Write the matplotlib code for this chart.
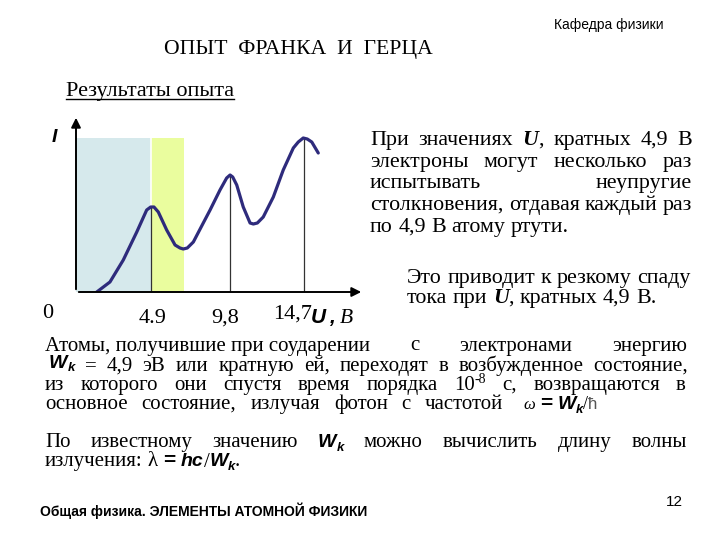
import matplotlib
matplotlib.use("Agg")
import matplotlib.pyplot as plt
from matplotlib.patches import Rectangle

# curve (U in volts, I in arbitrary units)
U = [1.34, 2.19, 3.05, 3.92, 4.56, 4.82, 5.03, 5.31, 5.85, 6.39, 6.71, 6.92, 7.18, 7.57,
     8.21, 8.65, 9.29, 9.72, 9.94, 10.11, 10.37, 10.79, 11.23, 11.44, 11.70, 12.08, 12.73,
     13.37, 14.02, 14.34, 14.66, 14.92, 15.21, 15.63]
I = [0, 10, 32, 60, 82, 85, 85, 80, 62, 47, 44, 43, 44, 50,
     69, 82, 102, 114, 117, 115, 107, 85, 69, 68, 69, 75, 95,
     122, 144, 150, 154, 153, 150, 139]
peak_U = [4.82, 9.94, 14.73]
peak_I = [85, 117, 154]
band_blue = [0, 4.82]
band_green = [4.82, 6.97]
band_top = 154
tick_pos = [-1.8, 4.97, 9.6, 14.0]
tick_txt = ["0", "4.9", "9,8", "14,7"]
tick_y = [-26, -31, -31, -27]

SERIF = "Liberation Serif"
SANS = "Liberation Sans"
ST = {
    "r": dict(family=SERIF),
    "bi": dict(family=SERIF, weight="bold", style="italic"),
    "i": dict(family=SERIF, style="italic"),
    "W": dict(family=SANS, weight="bold", style="italic"),
    "S": dict(family=SANS, weight="bold"),
    "t": dict(family=SANS, weight="light", color="#555555"),
}

fig = plt.figure(figsize=(7.2, 5.4), dpi=100)

# --- chart ---
ax = fig.add_axes([76 / 720, 248 / 540, 288 / 720, 177 / 540])
ax.set_xlim(0, 18.58)
ax.set_ylim(0, 177)
ax.axis("off")
ax.add_patch(Rectangle((band_blue[0], 0), band_blue[1] - band_blue[0], band_top,
                       fc="#d6e9ec", ec="none", zorder=0))
ax.add_patch(Rectangle((band_green[0], 0), band_green[1] - band_green[0], band_top,
                       fc="#eafd9e", ec="none", zorder=0))
ax.plot([peak_U[0], peak_U[0]], [peak_I[0], band_top], color="white", lw=1.2, zorder=1)
for u, i in zip(peak_U, peak_I):
    ax.plot([u, u], [0, i], color="#333333", lw=0.9, zorder=1)
ax.plot(U, I, color="#2e2b7c", lw=2.3, solid_joinstyle="round", solid_capstyle="round", zorder=3)
ax.annotate("", xy=(18.58, 0), xytext=(0, 0), annotation_clip=False,
            arrowprops=dict(arrowstyle="-|>", color="black", lw=1.4, mutation_scale=14))
ax.annotate("", xy=(0, 177), xytext=(0, 0), annotation_clip=False,
            arrowprops=dict(arrowstyle="-|>", color="black", lw=1.4, mutation_scale=14))
for p, t, ty in zip(tick_pos, tick_txt, tick_y):
    ax.text(p, ty, t, ha="center", va="baseline", fontsize=16, clip_on=False, **ST["r"])

# --- overlay in pixel coordinates for the slide text ---
ov = fig.add_axes([0, 0, 1, 1], zorder=5)
ov.set_xlim(0, 720)
ov.set_ylim(540, 0)
ov.axis("off")
ov.patch.set_alpha(0)
renderer = fig.canvas.get_renderer()


def seg_w(txt, size, st):
    t = ov.text(0, 0, txt, fontsize=size, **ST[st])
    w = t.get_window_extent(renderer).width
    t.remove()
    return w


def draw_line(y, words, x0, x1=None, size=15):
    # a word is a plain string or a list of (text, style, size or None, dy)
    words = [[(w, "r", None, 0)] if isinstance(w, str) else w for w in words]
    widths = [sum(seg_w(s[0], s[2] or size, s[1]) for s in w) for w in words]
    if x1 is not None and len(words) > 1:
        gap = (x1 - x0 - sum(widths)) / (len(words) - 1)
    else:
        gap = seg_w("a a", size, "r") - seg_w("aa", size, "r")
    x = x0
    for w, wd in zip(words, widths):
        xx = x
        for txt, st, sz, dy in w:
            ov.text(xx, y + dy, txt, fontsize=sz or size, ha="left", va="baseline", **ST[st])
            xx += seg_w(txt, sz or size, st)
        x += wd + gap


# header
ov.text(554, 29, "Кафедра физики", fontsize=10, family=SANS, va="baseline")
ov.text(164, 54, "ОПЫТ  ФРАНКА  И  ГЕРЦА", fontsize=15.6, family=SERIF, va="baseline")
t = ov.text(66, 96, "Результаты опыта", fontsize=16, family=SERIF, va="baseline")
w = t.get_window_extent(renderer).width
ov.plot([66, 66 + w], [99, 99], color="black", lw=1)

# axis labels
ov.text(52, 142, "I", fontsize=14, va="baseline", **ST["W"])
ov.text(311, 323, "U", fontsize=15, va="baseline", **ST["W"])
ov.text(329, 323, ",", fontsize=15, va="baseline", **ST["W"])
ov.text(340, 323, "B", fontsize=15.5, va="baseline", **ST["i"])

# right block
S1 = 15.8
U_ = [("U", "bi", None, 0), (",", "r", None, 0)]
draw_line(145, ["При", "значениях", U_, "кратных", "4,9", "В"], 370, 692, S1)
draw_line(166.7, ["электроны", "могут", "несколько", "раз"], 370, 692, S1)
draw_line(188, ["испытывать", "неупругие"], 370, 692, S1)
draw_line(210, ["столкновения,", "отдавая", "каждый", "раз"], 370, 692, S1)
draw_line(231.7, ["по", "4,9", "В", "атому", "ртути."], 370, None, S1)
draw_line(283.3, ["Это", "приводит", "к", "резкому", "спаду"], 407, None, S1)
draw_line(302.7, ["тока", "при", U_, "кратных", "4,9", "В."], 407, None, S1)

# bottom block
S2 = 15
draw_line(350.5, ["Атомы, получившие при соударении", "с", "электронами", "энергию"], 45, 687, S2)
draw_line(371, [[("W", "W", 14, -3), ("k", "W", 9.5, 0)], "=", "4,9", "эВ", "или", "кратную",
                "ей,", "переходят", "в", "возбужденное", "состояние,"], 49, 688, S2)
draw_line(390, ["из", "которого", "они", "спустя", "время", "порядка",
                [("10", "r", None, 0), ("-8", "r", 10, -7)], "с,", "возвращаются", "в"], 45, 686, S2)
draw_line(409, ["основное", "состояние,", "излучая", "фотон", "с", "частотой"], 45, 503, S2)
draw_line(409, [[("ω", "i", 12, 0)], [("=", "S", 15, 0)],
                [("W", "W", 14, 0), ("k", "W", 9.5, 4), ("/", "r", 13, 0), ("ħ", "t", 12, 0)]],
          523, None, S2)
draw_line(446.7, ["По", "известному", "значению", [("W", "W", 14, 0), ("k", "W", 9.5, 4)],
                  "можно", "вычислить", "длину", "волны"], 45, 687, S2)
draw_line(466, ["излучения:", [("λ", "r", 15, 0)], [("=", "S", 15, 0)],
                [("hc", "W", 14, 0), ("/", "r", 15, 1), ("W", "W", 14, 0), ("k", "W", 9.5, 4),
                 (".", "r", None, 0)]], 45, None, S2)

# footer
ov.text(40, 516, "Общая физика. ЭЛЕМЕНТЫ АТОМНОЙ ФИЗИКИ", fontsize=10, family=SANS,
        weight="bold", va="baseline")
ov.text(666, 506, "12", fontsize=11, family=SANS, va="baseline")

fig.savefig("out.png", dpi=100)
